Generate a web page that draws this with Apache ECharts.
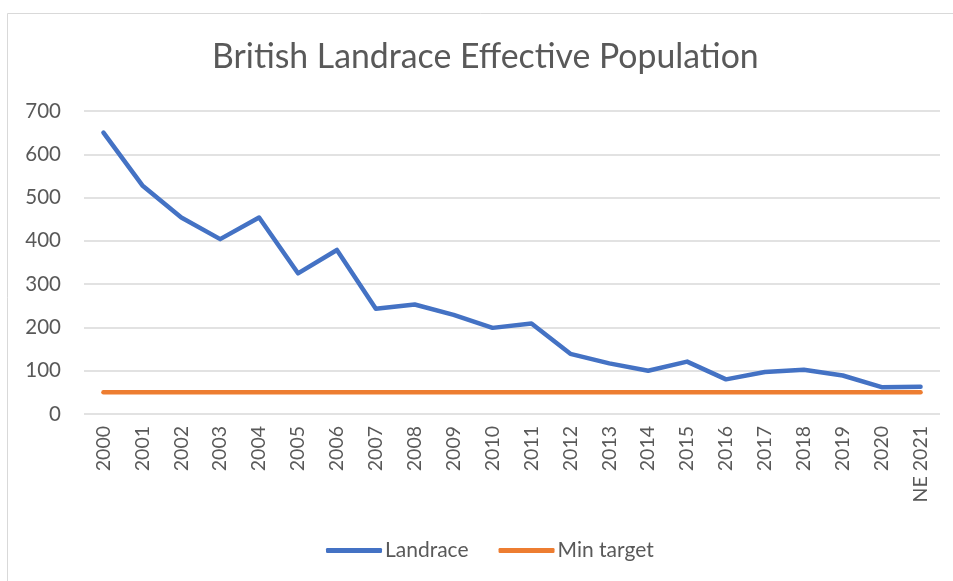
<!DOCTYPE html>
<html><head><meta charset="utf-8">
<script src="https://cdn.jsdelivr.net/npm/echarts@6/dist/echarts.min.js"></script>
<style>html,body{margin:0;padding:0;background:#fff}#c{width:953px;height:581px}</style>
</head><body><div id="c"></div>
<script>
const categories = ['2000','2001','2002','2003','2004','2005','2006','2007','2008','2009','2010','2011','2012','2013','2014','2015','2016','2017','2018','2019','2020','NE 2021'];
const landrace = [650,528,454,404,454,325,379,243,253,229,199,209,139,117,100,121,80,97,102,89,62,63];
const minTarget = [50,50,50,50,50,50,50,50,50,50,50,50,50,50,50,50,50,50,50,50,50,50];
const yTicks = [0,100,200,300,400,500,600,700];

const font = 'Lato, "Noto Sans", sans-serif';
const chart = echarts.init(document.getElementById('c'), null, {renderer:'canvas'});
chart.setOption({
  animation: false,
  backgroundColor: '#fff',
  graphic: [{type:'rect', shape:{x:7.5,y:13.5,width:1000,height:700}, style:{fill:'none',stroke:'#d9d9d9',lineWidth:1}, silent:true, z:-1}],
  title: {text:'British Landrace Effective Population', left:207, top:35,
    textStyle:{fontFamily:font, fontSize:33.8, fontWeight:'normal', color:'#595959'}},
  legend: {bottom:15, left:321, itemWidth:56, itemHeight:5, itemGap:30,
    icon:'roundRect',
    textStyle:{fontFamily:font, fontSize:21, color:'#595959', padding:[0,0,0,-2]},
    data:['Landrace','Min target']},
  grid: {left:84, right:13, top:111, bottom:167, containLabel:false},
  xAxis: {type:'category', data:categories, boundaryGap:true,
    axisLine:{show:false}, axisTick:{show:false},
    axisLabel:{rotate:90, fontFamily:font, fontSize:19.5, color:'#595959', margin:12, interval:0}},
  yAxis: {type:'value', min:yTicks[0], max:yTicks[yTicks.length-1], interval:100,
    axisLine:{show:false}, axisTick:{show:false},
    splitLine:{lineStyle:{color:'#d9d9d9', width:1.5}},
    axisLabel:{fontFamily:font, fontSize:20.5, color:'#595959', margin:23}},
  series: [
    {name:'Landrace', type:'line', data:landrace, symbol:'none', color:'#4472C4',
      lineStyle:{width:4.5, color:'#4472C4', cap:'round', join:'round'}},
    {name:'Min target', type:'line', data:minTarget, symbol:'none', color:'#ED7D31',
      lineStyle:{width:4.5, color:'#ED7D31', cap:'round', join:'round'}}
  ]
});
</script></body></html>
